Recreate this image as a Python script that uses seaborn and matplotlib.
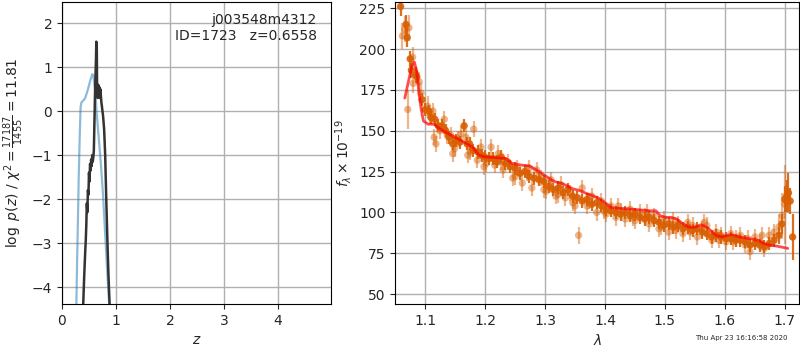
import matplotlib
matplotlib.use("Agg")
import matplotlib.pyplot as plt
import seaborn as sns
import numpy as np

# p(z) curves
z_prior = [0.265, 0.28, 0.29, 0.31, 0.33, 0.345, 0.36, 0.40, 0.43, 0.47, 0.52, 0.56, 0.58, 0.61,
           0.64, 0.68, 0.72, 0.76, 0.80, 0.84, 0.88]
logp_prior = [-4.5, -3.4, -2.8, -1.5, -0.5, 0.1, 0.2, 0.25, 0.3, 0.45, 0.68, 0.84, 0.82, 0.5,
              0.0, -0.6, -1.2, -1.9, -2.8, -3.7, -4.5]

z_fit = [0.39, 0.41, 0.43, 0.44, 0.45, 0.46, 0.47, 0.48, 0.49, 0.50, 0.51, 0.52, 0.53, 0.54,
         0.55, 0.56, 0.57, 0.58, 0.59, 0.60, 0.61, 0.62, 0.63, 0.636, 0.645, 0.65, 0.66, 0.67,
         0.68, 0.69, 0.70, 0.71, 0.72, 0.73, 0.74, 0.76, 0.78, 0.80, 0.82, 0.84, 0.86, 0.885]
logp_fit = [-4.5, -3.8, -3.2, -2.95, -2.6, -2.1, -2.3, -1.8, -1.9, -1.4, -1.6, -1.2, -1.35, -1.1,
            -1.25, -1.0, -1.15, -1.05, -0.9, -0.3, 0.3, 0.8, 1.2, 1.58, 1.4, 0.5, 0.3, 0.6, 0.35,
            0.55, 0.3, 0.5, 0.35, 0.2, 0.1, -0.1, -0.4, -1.0, -2.0, -2.9, -3.7, -4.5]

# spectrum, grism orientation A (dark)
wave_a = [1.059, 1.068, 1.070, 1.075, 1.077, 1.084, 1.086, 1.095, 1.100, 1.106, 1.110, 1.116,
          1.122, 1.128, 1.134, 1.140, 1.146, 1.152, 1.158, 1.165, 1.170, 1.174, 1.180, 1.188,
          1.194, 1.199, 1.206, 1.213, 1.220, 1.227, 1.234, 1.242, 1.250, 1.258, 1.266, 1.274,
          1.282, 1.290, 1.298, 1.306, 1.314, 1.322, 1.330, 1.338, 1.346, 1.354, 1.362, 1.370,
          1.378, 1.386, 1.394, 1.402, 1.410, 1.418, 1.426, 1.434, 1.442, 1.450, 1.458, 1.466,
          1.474, 1.482, 1.490, 1.498, 1.506, 1.514, 1.522, 1.530, 1.538, 1.546, 1.554, 1.562,
          1.570, 1.578, 1.586, 1.594, 1.602, 1.610, 1.618, 1.626, 1.634, 1.642, 1.650, 1.658,
          1.666, 1.674, 1.682, 1.690, 1.695, 1.700, 1.703, 1.706, 1.709, 1.713]
flux_a = [226, 215, 207, 194, 187, 184, 183, 169, 163, 162, 158, 157,
          153, 153, 150, 146, 142, 144, 143, 153, 142, 142, 138, 137,
          135, 134, 133, 133, 131, 134, 130, 128, 127, 124, 125, 122,
          121, 120, 119, 116, 114, 115, 112, 114, 110, 109, 107, 108,
          105, 106, 104, 102, 101, 100, 99, 100, 98, 99, 97, 96,
          97, 95, 94, 92, 93, 91, 92, 90, 91, 89, 90, 88,
          87, 85, 86, 85, 84, 84, 83, 83, 82, 80, 81, 80,
          79, 81, 83, 86, 93, 108, 110, 112, 107, 85]
err_a = [6, 6, 6, 5, 5, 5, 4, 4, 4, 4, 4, 4,
         4, 4, 4, 4, 4, 4, 4, 4, 4, 4, 4, 4,
         4, 4, 4, 4, 4, 4, 4, 4, 4, 4, 4, 4,
         4, 4, 4, 4, 4, 4, 4, 4, 4, 4, 4, 4,
         4, 4, 4, 4, 4, 4, 4, 4, 4, 4, 4, 4,
         4, 4, 4, 4, 4, 4, 4, 4, 4, 4, 4, 4,
         4, 4, 4, 4, 4, 4, 4, 4, 4, 4, 4, 4,
         4, 4, 4, 5, 6, 8, 10, 12, 8, 14]

# spectrum, grism orientation B (light)
wave_b = [1.062, 1.066, 1.073, 1.071, 1.079, 1.080, 1.090, 1.093, 1.104, 1.108, 1.113, 1.115,
          1.118, 1.124, 1.132, 1.137, 1.143, 1.149, 1.155, 1.160, 1.168, 1.175, 1.181, 1.187,
          1.193, 1.202, 1.210, 1.216, 1.222, 1.230, 1.238, 1.246, 1.254, 1.262, 1.270, 1.278,
          1.286, 1.294, 1.302, 1.310, 1.318, 1.326, 1.334, 1.342, 1.350, 1.356, 1.362, 1.370,
          1.378, 1.386, 1.394, 1.402, 1.410, 1.418, 1.426, 1.434, 1.442, 1.450, 1.458, 1.466,
          1.474, 1.482, 1.490, 1.498, 1.506, 1.514, 1.522, 1.530, 1.538, 1.546, 1.554, 1.562,
          1.570, 1.578, 1.586, 1.594, 1.602, 1.610, 1.618, 1.626, 1.634, 1.642, 1.650, 1.658,
          1.666, 1.674, 1.682, 1.690, 1.696, 1.700,
          1.146, 1.171, 1.198, 1.226, 1.250, 1.274, 1.298, 1.322, 1.346, 1.374, 1.398, 1.422,
          1.446, 1.470, 1.494, 1.518, 1.542, 1.566, 1.590, 1.614, 1.638, 1.662]
flux_b = [208, 212, 213, 163, 195, 179, 180, 173, 165, 159, 162, 146,
          142, 150, 157, 147, 147, 139, 145, 148, 146, 137, 151, 132,
          140, 130, 140, 129, 136, 126, 131, 121, 127, 118, 124, 115,
          126, 121, 113, 120, 110, 117, 109, 112, 104, 86, 115, 104,
          110, 100, 107, 99, 104, 97, 101, 96, 102, 95, 100, 98,
          93, 98, 90, 96, 88, 95, 93, 87, 94, 92, 85, 90,
          92, 83, 88, 86, 82, 87, 84, 86, 80, 76, 85, 82,
          78, 86, 88, 91, 98, 105,
          136, 135, 128, 131, 122, 127, 114, 111, 106, 107, 101, 104,
          97, 100, 91, 89, 88, 94, 83, 82, 84, 86]
err_b = [8, 8, 8, 12, 6, 6, 6, 6, 6, 5, 5, 5,
         5, 5, 5, 5, 5, 5, 5, 5, 5, 5, 5, 5,
         5, 5, 5, 5, 5, 5, 5, 5, 5, 5, 5, 5,
         5, 5, 5, 5, 5, 5, 5, 5, 5, 5, 5, 5,
         5, 5, 5, 5, 5, 5, 5, 5, 5, 5, 5, 5,
         5, 5, 5, 5, 5, 5, 5, 5, 5, 5, 5, 5,
         5, 5, 5, 5, 5, 5, 5, 5, 5, 5, 5, 5,
         5, 5, 5, 8, 14, 24,
         5, 5, 5, 5, 5, 5, 5, 5, 5, 5, 5, 5,
         5, 5, 5, 5, 5, 5, 5, 5, 5, 5]

# best-fit model
wave_model = [1.066, 1.072, 1.078, 1.082, 1.086, 1.090, 1.093, 1.097, 1.105, 1.115, 1.125, 1.140,
              1.160, 1.179, 1.190, 1.200, 1.220, 1.235, 1.245, 1.260, 1.274, 1.290, 1.302, 1.315,
              1.330, 1.346, 1.357, 1.370, 1.388, 1.400, 1.410, 1.425, 1.440, 1.460, 1.475, 1.485,
              1.492, 1.500, 1.510, 1.520, 1.530, 1.540, 1.550, 1.560, 1.570, 1.585, 1.595, 1.610,
              1.625, 1.640, 1.655, 1.665, 1.675, 1.685, 1.695, 1.705]
flux_model = [170, 180, 190, 192, 186, 172, 164, 156, 154, 154, 151, 148,
              144, 140, 135, 134, 133.5, 133, 130, 129, 128.5, 125, 122, 119,
              117.5, 114.5, 113.5, 111.5, 109, 106, 103, 102.5, 102.2, 101.5, 101, 101,
              98, 97, 97, 96, 93, 91, 91, 92.5, 91, 86, 85, 86.5,
              85, 84, 83, 81, 80, 79.5, 78.8, 78]

obj_name = "j003548m4312"
obj_id = 1723
z_best = 0.6558
chi2_num, chi2_den = 17187, 1455
stamp = "Thu Apr 23 16:16:58 2020"

sns.set_style("ticks", {"axes.grid": True, "grid.color": "#b0b0b0", "axes.edgecolor": "black"})
plt.rcParams["font.family"] = ["DejaVu Sans"]

fig = plt.figure(figsize=(8, 3.5), dpi=100)
ax1 = fig.add_axes([0.0775, 0.131, 0.336, 0.863])
ax2 = fig.add_axes([0.494, 0.131, 0.505, 0.863])

# left: redshift probability
sns.lineplot(x=z_prior, y=logp_prior, ax=ax1, color="#1f77b4", alpha=0.5, lw=1.6,
             estimator=None, sort=False)
sns.lineplot(x=z_fit, y=logp_fit, ax=ax1, color="#333333", lw=1.8,
             estimator=None, sort=False)
ax1.set_xlim(0, 4.98)
ax1.set_ylim(-4.39, 2.48)
ax1.set_xticks([0, 1, 2, 3, 4])
ax1.set_yticks([-4, -3, -2, -1, 0, 1, 2])
ax1.set_xlabel("$z$")
ax1.set_ylabel(r"$\log\ p(z)$ / $\chi^2=\frac{%d}{%d}=%.2f$" % (chi2_num, chi2_den, chi2_num / chi2_den))
ax1.text(0.948, 0.965, "%s\nID=%d   z=%.4f" % (obj_name, obj_id, z_best),
         transform=ax1.transAxes, ha="right", va="top", fontsize=10)
ax1.grid(True, color="#b0b0b0", lw=1)

# right: spectrum
orange = "#d95f02"
ax2.errorbar(wave_b, flux_b, yerr=err_b, fmt="none", ecolor=orange, alpha=0.45, elinewidth=1.6)
sns.scatterplot(x=wave_b, y=flux_b, ax=ax2, color=orange, alpha=0.45, s=28, edgecolor="none")
ax2.errorbar(wave_a, flux_a, yerr=err_a, fmt="none", ecolor=orange, alpha=0.9, elinewidth=1.6)
sns.scatterplot(x=wave_a, y=flux_a, ax=ax2, color=orange, alpha=0.9, s=28, edgecolor="none")
sns.lineplot(x=wave_model, y=flux_model, ax=ax2, color="red", alpha=0.7, lw=2,
             estimator=None, sort=False)
ax2.set_xlim(1.05, 1.724)
ax2.set_ylim(43.9, 228.7)
ax2.set_xticks([1.1, 1.2, 1.3, 1.4, 1.5, 1.6, 1.7])
ax2.set_yticks([50, 75, 100, 125, 150, 175, 200, 225])
ax2.set_xlabel(r"$\lambda$")
ax2.set_ylabel(r"$f_\lambda\times10^{-19}$")
ax2.grid(True, color="#b0b0b0", lw=1)

fig.text(0.985, 0.025, stamp, ha="right", va="bottom", fontsize=5)

fig.savefig("out.png", dpi=100)
